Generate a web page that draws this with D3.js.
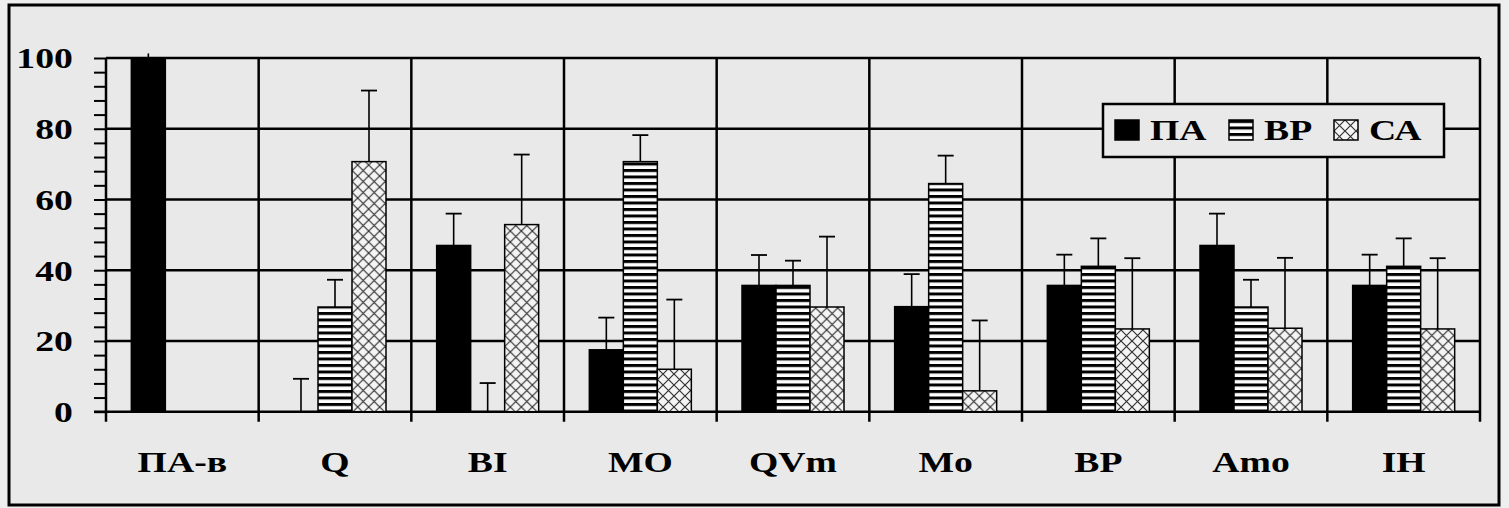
<!DOCTYPE html>
<html>
<head>
<meta charset="utf-8">
<script src="https://cdn.jsdelivr.net/npm/d3@7"></script>
<style>
  html, body { margin: 0; padding: 0; background: #eeeeee; }
  svg { display: block; }
  text { font-family: "Liberation Serif", "Times New Roman", serif; font-weight: bold; fill: #000; }
</style>
</head>
<body>
<div id="chart"></div>
<script>
// Data
const categories = ["ПА-в", "Q", "BI", "MO", "QVm", "Mo", "BP", "Amo", "IH"];
const seriesNames = ["ПА", "ВР", "СА"];
const paValues = [100, 0, 47, 17.5, 35.7, 29.7, 35.7, 47, 35.7];
const paErrors = [101.3, 9.3, 56, 26.6, 44.3, 38.9, 44.4, 56, 44.4];
const vrValues = [0, 29.6, 0, 70.7, 35.7, 64.5, 41.1, 29.6, 41.1];
const vrErrors = [null, 37.3, 8.1, 78.2, 42.7, 72.4, 49, 37.3, 49];
const caValues = [0, 70.7, 52.9, 12, 29.6, 5.9, 23.4, 23.6, 23.4];
const caErrors = [null, 90.8, 72.7, 31.7, 49.5, 25.8, 43.4, 43.5, 43.4];
const yTicks = [0, 20, 40, 60, 80, 100];

const width = 1509, height = 508;
const plot = { left: 106, right: 1480, top: 58, bottom: 411.7 };
const textScale = 1.3;

const svg = d3.select("#chart").append("svg")
  .attr("width", width)
  .attr("height", height);

// patterns
const defs = svg.append("defs");
const stripes = defs.append("pattern")
  .attr("id", "stripes")
  .attr("patternUnits", "userSpaceOnUse")
  .attr("width", 8).attr("height", 6.5);
stripes.append("rect").attr("width", 8).attr("height", 6.5).attr("fill", "#fff");
stripes.append("rect").attr("y", 0).attr("width", 8).attr("height", 3).attr("fill", "#000");

const cross = defs.append("pattern")
  .attr("id", "cross")
  .attr("patternUnits", "userSpaceOnUse")
  .attr("width", 11).attr("height", 11);
cross.append("rect").attr("width", 11).attr("height", 11).attr("fill", "#f4f4f4");
cross.append("path").attr("d", "M0,0L11,11M11,0L0,11")
  .attr("stroke", "#333").attr("stroke-width", 1.2).attr("fill", "none");

const fills = { "ПА": "#000", "ВР": "url(#stripes)", "СА": "url(#cross)" };

// outer frame
svg.append("rect")
  .attr("x", 9).attr("y", 5)
  .attr("width", 1490).attr("height", 500)
  .attr("fill", "#e9e9e9")
  .attr("stroke", "#000").attr("stroke-width", 3);

// scales
const x0 = d3.scaleBand().domain(categories).range([plot.left, plot.right]).padding(0);
const bw = x0.bandwidth();
const x1 = d3.scaleBand().domain(seriesNames).range([bw / 2 - 51, bw / 2 + 51]).padding(0);
const y = d3.scaleLinear().domain([0, 100]).range([plot.bottom, plot.top]);

// horizontal gridlines
svg.append("g").selectAll("line")
  .data(yTicks.filter(d => d > 0))
  .join("line")
  .attr("x1", plot.left).attr("x2", plot.right)
  .attr("y1", d => y(d)).attr("y2", d => y(d))
  .attr("stroke", "#000").attr("stroke-width", 2.5);

// vertical category boundaries (extend below axis as ticks)
const bounds = categories.map(c => x0(c)).concat([plot.right]);
svg.append("g").selectAll("line")
  .data(bounds)
  .join("line")
  .attr("x1", d => d).attr("x2", d => d)
  .attr("y1", plot.top).attr("y2", plot.bottom + 10)
  .attr("stroke", "#000").attr("stroke-width", 2.5);

// y axis with minor ticks
const yAxis = d3.axisLeft(y)
  .tickValues(d3.range(0, 101, 4))
  .tickSize(12)
  .tickFormat(d => yTicks.includes(d) ? d : "");
const ga = svg.append("g")
  .attr("transform", `translate(${plot.left},0)`)
  .call(yAxis);
ga.select(".domain").remove();
ga.selectAll(".tick line").attr("stroke", "#000").attr("stroke-width", 2);
ga.selectAll(".tick text")
  .attr("x", -25.5)
  .attr("dy", "0.34em")
  .attr("transform", `scale(${textScale},1)`)
  .style("font-size", "29px")
  .style("font-family", "'Liberation Serif', serif")
  .style("font-weight", "bold");

// x axis baseline
svg.append("line")
  .attr("x1", plot.left - 12).attr("x2", plot.right)
  .attr("y1", plot.bottom).attr("y2", plot.bottom)
  .attr("stroke", "#000").attr("stroke-width", 2.5);

// bars
const rows = categories.map((c, i) => ({
  cat: c,
  items: [
    { key: "ПА", v: paValues[i], e: paErrors[i] },
    { key: "ВР", v: vrValues[i], e: vrErrors[i] },
    { key: "СА", v: caValues[i], e: caErrors[i] }
  ]
}));

const groups = svg.append("g").selectAll("g")
  .data(rows)
  .join("g")
  .attr("transform", d => `translate(${x0(d.cat)},0)`);

groups.selectAll("rect")
  .data(d => d.items.filter(it => it.v > 0))
  .join("rect")
  .attr("x", d => x1(d.key))
  .attr("width", x1.bandwidth())
  .attr("y", d => y(d.v))
  .attr("height", d => y(0) - y(d.v))
  .attr("fill", d => fills[d.key])
  .attr("stroke", "#000").attr("stroke-width", 1.5);

// error bars (upper only)
const errs = groups.selectAll("g.err")
  .data(d => d.items.filter(it => it.e != null))
  .join("g").attr("class", "err");
errs.append("line")
  .attr("x1", d => x1(d.key) + x1.bandwidth() / 2)
  .attr("x2", d => x1(d.key) + x1.bandwidth() / 2)
  .attr("y1", d => y(d.v)).attr("y2", d => y(d.e))
  .attr("stroke", "#000").attr("stroke-width", 1.6);
errs.filter(d => d.e <= 100).append("line")
  .attr("x1", d => x1(d.key) + x1.bandwidth() / 2 - 8)
  .attr("x2", d => x1(d.key) + x1.bandwidth() / 2 + 8)
  .attr("y1", d => y(d.e)).attr("y2", d => y(d.e))
  .attr("stroke", "#000").attr("stroke-width", 1.8);

// category labels
svg.append("g").selectAll("text")
  .data(categories)
  .join("text")
  .attr("transform", d => `translate(${x0(d) + bw / 2},472) scale(${textScale},1)`)
  .attr("text-anchor", "middle")
  .style("font-size", "29px")
  .text(d => d);

// legend
const legend = svg.append("g").attr("transform", "translate(1103,104)");
legend.append("rect")
  .attr("width", 341).attr("height", 53)
  .attr("fill", "#e9e9e9")
  .attr("stroke", "#000").attr("stroke-width", 2.5);
const legendX = [12, 126, 231];
const li = legend.selectAll("g.item")
  .data(seriesNames)
  .join("g").attr("class", "item")
  .attr("transform", (d, i) => `translate(${legendX[i]},16)`);
li.append("rect")
  .attr("width", 24).attr("height", 20)
  .attr("fill", d => fills[d])
  .attr("stroke", "#000").attr("stroke-width", 1.5);
li.append("text")
  .attr("transform", `translate(35,20) scale(${textScale},1)`)
  .style("font-size", "29px")
  .text(d => d);
</script>
</body>
</html>
